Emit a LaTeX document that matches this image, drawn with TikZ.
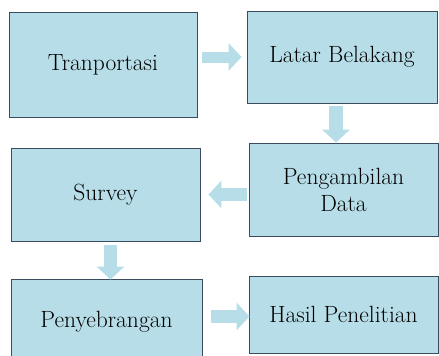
\documentclass[tikz,border=0pt]{standalone}
\usetikzlibrary{arrows.meta}
\definecolor{boxfill}{HTML}{B7DEE8}
\definecolor{boxline}{HTML}{3B4C5E}
\begin{document}
\begin{tikzpicture}[x=1pt,y=-1pt,
  box/.style={draw=boxline, line width=0.9pt, fill=boxfill, inner sep=0pt,
    font=\fontsize{23.5}{27}\selectfont, align=center},
  flow/.style={draw=boxfill, line width=#1, -{Triangle[width=27pt,length=13pt]}},
  flow/.default=13pt]
\useasboundingbox (0,0) rectangle (439,356);
\fill[white] (0,0) rectangle (439,356);
\node[box, minimum width=188pt, minimum height=105pt] (t) at (103,64.5) {Tranportasi};
\node[box, minimum width=190pt, minimum height=92pt] (l) at (342,57) {Latar Belakang};
\node[box, minimum width=189pt, minimum height=93pt] (p) at (343.5,189.5) {Pengambilan\\Data};
\node[box, minimum width=189pt, minimum height=93pt] (s) at (105.5,194.5) {Survey};
\node[box, minimum width=191pt, minimum height=86pt] (y) at (106.5,322) {Penyebrangan};
\node[box, minimum width=189pt, minimum height=77pt] (h) at (343.5,314.5) {Hasil Penelitian};
\draw[flow=11pt, shorten <=5pt, shorten >=5pt] (t.east |- l.west) -- (l.west);
\draw[flow=14pt, shorten <=3pt] ([xshift=-6pt]l.south) -- ([xshift=-6pt]l.south |- p.north);
\draw[flow, shorten <=2pt, shorten >=8pt] (p.west |- s.east) -- (s.east);
\draw[flow, shorten <=4pt, shorten >=-1pt] ([xshift=5pt]s.south) -- ([xshift=5pt]s.south |- y.north);
\draw[flow, shorten <=9pt, shorten >=-1pt] ([yshift=-2pt]y.east |- h.west) -- ([yshift=-2pt]h.west);
\end{tikzpicture}
\end{document}
